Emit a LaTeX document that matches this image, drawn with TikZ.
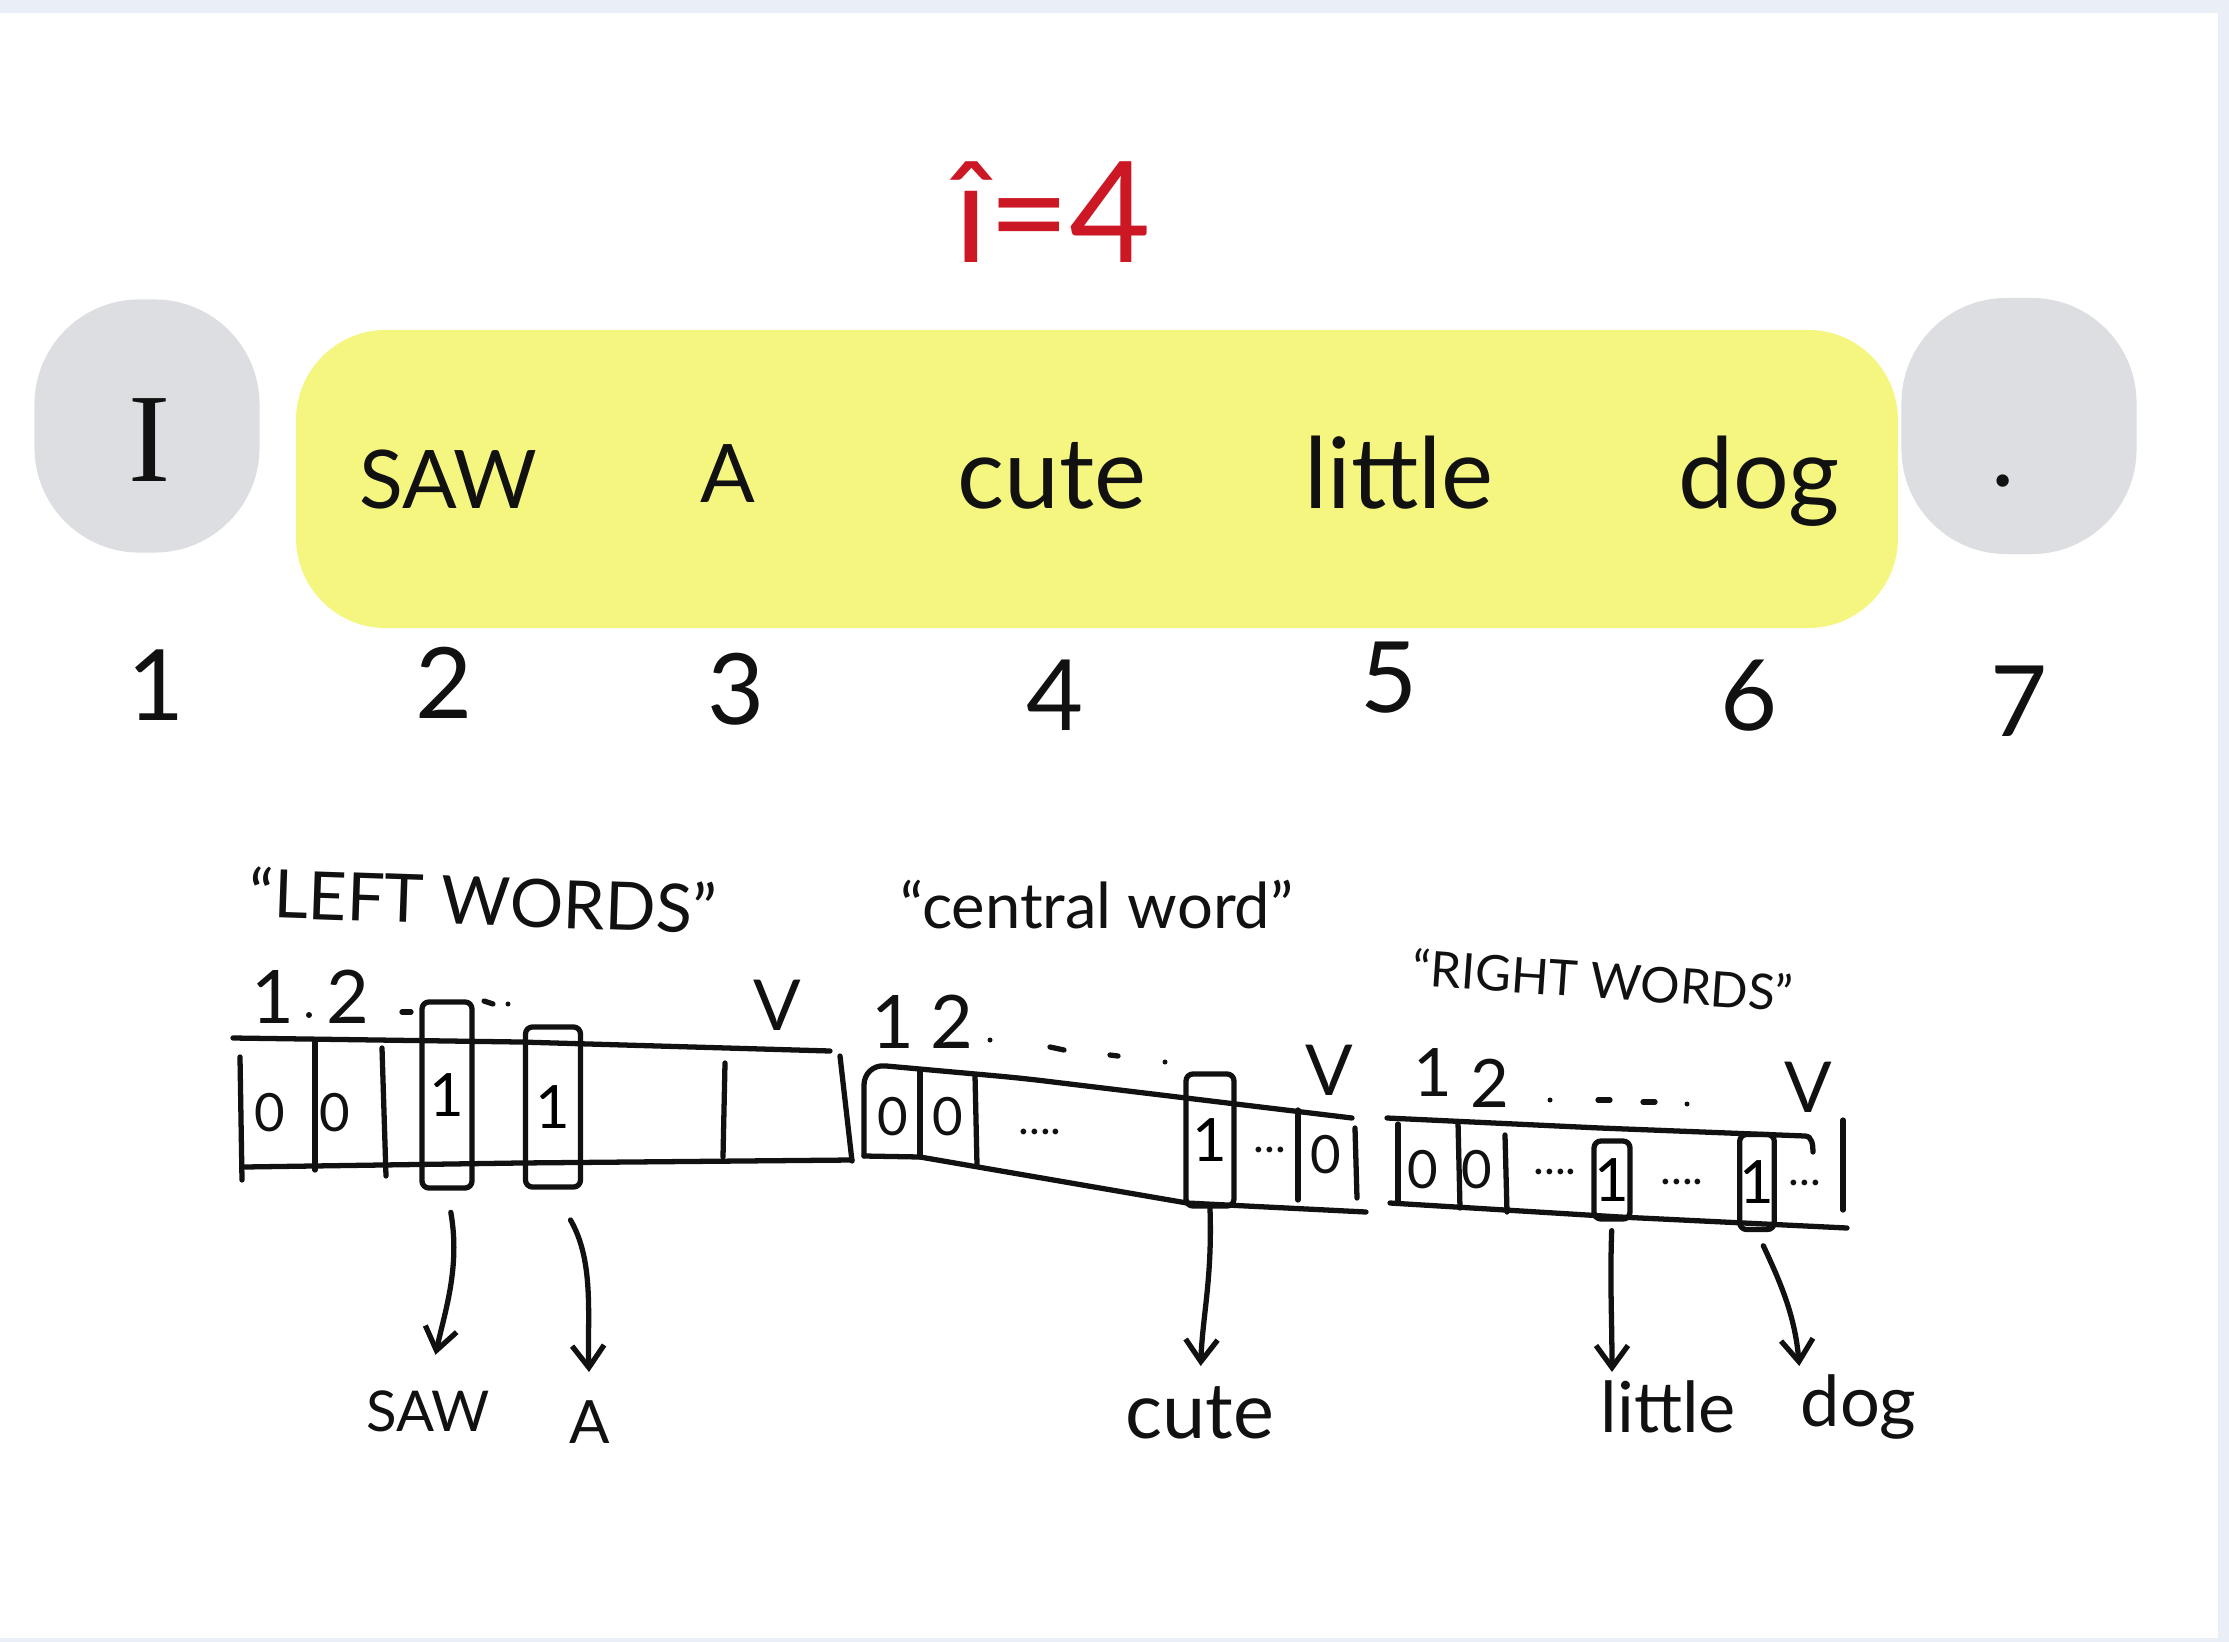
\documentclass[tikz,border=0pt]{standalone}
\usepackage{fontspec}
\setmainfont{Lato}
\newfontfamily\serifI{Liberation Serif}
\usetikzlibrary{arrows.meta}
\definecolor{framebg}{RGB}{233,238,247}
\definecolor{hlyellow}{RGB}{245,246,128}
\definecolor{blobgrey}{RGB}{221,222,225}
\definecolor{inkred}{RGB}{204,24,36}
\definecolor{ink}{RGB}{17,17,17}
\begin{document}
\begin{tikzpicture}[x=0.01cm,y=-0.01cm,
  hand/.style={draw=ink,line width=1.5pt,line cap=round,line join=round},
  arr/.style={hand,-{Straight Barb[length=2.2mm,width=3.2mm]}},
  blob/.style={fill=blobgrey,rounded corners=1.05cm,inner sep=0pt},
  hlbar/.style={fill=hlyellow,rounded corners=0.9cm,inner sep=0pt},
  word/.style={text=ink,inner sep=0pt,anchor=base,font=\fontsize{28}{34}\selectfont},
  capword/.style={word,font=\fontsize{23}{28}\selectfont},
  posnum/.style={text=ink,inner sep=0pt,anchor=base,font=\fontsize{28}{34}\selectfont},
  title/.style={text=inkred,inner sep=0pt,anchor=base,font=\fontsize{40}{48}\selectfont},
  grouplabel/.style={text=ink,inner sep=0pt,font=\fontsize{19}{23}\selectfont},
  idx/.style={text=ink,inner sep=0pt,font=\fontsize{21}{25}\selectfont},
  cell/.style={text=ink,inner sep=0pt,font=\fontsize{15}{18}\selectfont},
  celldots/.style={text=ink,inner sep=0pt,font=\fontsize{13}{15}\selectfont},
  onebox/.style={hand,rounded corners=2pt,inner sep=0pt,font=\fontsize{17}{20}\selectfont},
  outword/.style={text=ink,inner sep=0pt,font=\fontsize{20}{24}\selectfont}
]
% frame and page
\path[use as bounding box] (0,0) rectangle (2229,1642);
\fill[framebg] (0,0) rectangle (2229,1642);
\fill[white] (0,13) rectangle (2218,1638);

% title
\node[title] (ttl) at (1053,262) {î=4};

% highlight and blobs
\node[blob,minimum width=2.25cm,minimum height=2.53cm] (g1) at (147,426) {};
\node[blob,minimum width=2.35cm,minimum height=2.56cm] (g7) at (2019,426) {};
\node[hlbar,minimum width=16.01cm,minimum height=2.98cm] (hl) at (1097,479) {};

% sentence words
\node[word,font=\serifI\fontsize{36}{42}\selectfont] (w1) at (150,481) {I};
\node[capword] (w2) at (448,508) {SAW};
\node[capword] (w3) at (728,502) {A};
\node[word] (w4) at (1052,508) {cute};
\node[word] (w5) at (1399,508) {little};
\node[word] (w6) at (1759,508) {dog};
\node[word] (w7) at (2003,486) {.};

% positions
\node[posnum] (n1) at (156,720) {1};
\node[posnum] (n2) at (444,718) {2};
\node[posnum] (n3) at (736,724) {3};
\node[posnum] (n4) at (1055,730) {4};
\node[posnum] (n5) at (1389,712) {5};
\node[posnum] (n6) at (1749,730) {6};
\node[posnum] (n7) at (2019,736) {7};

% group labels
\node[grouplabel,rotate=-2] (gl) at (483,900) {“LEFT WORDS”};
\node[grouplabel,font=\fontsize{18}{22}\selectfont] (gc) at (1097,905) {“central word”};
\node[grouplabel,font=\fontsize{14}{17}\selectfont,rotate=-4] (gr) at (1603,980) {“RIGHT WORDS”};

% ---------- left vector ----------
\draw[hand] (233,1038) -- (520,1042) -- (830,1051);
\draw[hand] (240,1057) -- (242,1180);
\draw[hand] (244,1167) -- (520,1163) -- (852,1160);
\draw[hand] (840,1056) -- (852,1161);
\draw[hand] (315,1040) -- (315,1170);
\draw[hand] (382,1048) -- (386,1176);
\draw[hand] (725,1063) -- (723,1157);
\node[cell] (lc1) at (270,1113) {0};
\node[cell] (lc2) at (335,1113) {0};
\node[onebox,minimum width=0.50cm,minimum height=1.86cm] (b1) at (447,1095) {1};
\node[onebox,minimum width=0.55cm,minimum height=1.60cm] (b2) at (553,1107) {1};
\node[idx] (li1) at (273,997) {1};
\node[idx] (li2) at (348,997) {2};
\node[idx,font=\fontsize{20}{24}\selectfont] (liv) at (777,1005) {V};
\fill[ink] (309,1015) circle (3);
\draw[hand] (402,1012) -- (411,1012);
\draw[hand] (484,1001) -- (493,1004);
\fill[ink] (508,1004) circle (2.5);

% ---------- middle vector ----------
\draw[hand,rounded corners=6pt] (864,1156) -- (864,1064) -- (1020,1078) -- (1352,1118);
\draw[hand] (864,1156) -- (920,1157) -- (1187,1203) -- (1366,1212);
\draw[hand] (1355,1128) -- (1357,1198);
\draw[hand] (920,1070) -- (920,1157);
\draw[hand] (975,1075) -- (977,1165);
\draw[hand] (1298,1110) -- (1298,1200);
\node[cell] (mc1) at (893,1117) {0};
\node[cell] (mc2) at (948,1117) {0};
\node[celldots] (md1) at (1040,1132) {....};
\node[onebox,minimum width=0.48cm,minimum height=1.32cm] (b3) at (1210,1140) {1};
\node[celldots] (md2) at (1270,1150) {...};
\node[cell] (mc3) at (1326,1155) {0};
\node[idx] (mi1) at (893,1022) {1};
\node[idx] (mi2) at (952,1022) {2};
\node[idx,font=\fontsize{20}{24}\selectfont] (miv) at (1329,1070) {V};
\fill[ink] (990,1040) circle (2.5);
\draw[hand] (1050,1047) -- (1064,1050);
\draw[hand] (1110,1055) -- (1118,1056);
\fill[ink] (1165,1062) circle (2.5);

% ---------- right vector ----------
\draw[hand] (1387,1118) -- (1600,1128) -- (1805,1136) to[out=0,in=90] (1813,1152);
\draw[hand] (1398,1124) -- (1398,1203);
\draw[hand] (1390,1203) -- (1620,1217) -- (1847,1228);
\draw[hand] (1843,1120) -- (1843,1210);
\draw[hand] (1458,1122) -- (1460,1208);
\draw[hand] (1505,1135) -- (1507,1212);
\node[cell] (rc1) at (1423,1170) {0};
\node[cell] (rc2) at (1477,1170) {0};
\node[celldots] (rd1) at (1555,1172) {....};
\node[onebox,minimum width=0.36cm,minimum height=0.78cm] (b4) at (1612,1180) {1};
\node[celldots] (rd2) at (1682,1182) {....};
\node[onebox,minimum width=0.27cm,minimum height=0.95cm] (b5) at (1757,1182) {1};
\node[celldots] (rd3) at (1805,1183) {...};
\node[idx,font=\fontsize{19}{23}\selectfont] (ri1) at (1433,1073) {1};
\node[idx,font=\fontsize{19}{23}\selectfont] (ri2) at (1490,1083) {2};
\node[idx,font=\fontsize{20}{24}\selectfont] (riv) at (1808,1087) {V};
\fill[ink] (1550,1100) circle (2.5);
\draw[hand] (1598,1100) -- (1610,1100);
\draw[hand] (1643,1102) -- (1655,1102);
\fill[ink] (1687,1104) circle (2.5);

% ---------- output words ----------
\node[outword,anchor=north,font=\fontsize{16}{19}\selectfont] (l1) at (428,1390) {SAW};
\node[outword,anchor=north,font=\fontsize{17}{20}\selectfont] (l2) at (590,1400) {A};
\node[outword,anchor=north,font=\fontsize{22}{26}\selectfont] (l3) at (1200,1386) {cute};
\node[outword,anchor=north west] (l4) at (1600,1380) {little};
\node[outword,anchor=north west] (l5) at (1800,1374) {dog};

% ---------- arrows ----------
\draw[arr,shorten <=0.22cm,shorten >=0.36cm] (b1.south) to[out=-80,in=78] (l1.north);
\draw[arr,shorten <=0.35cm,shorten >=0.28cm] (b2.south) to[out=-60,in=92] (l2.north);
\draw[arr,shorten >=0.2cm] (b3.south) to[out=-88,in=88] (l3.north);
\draw[arr,shorten <=0.09cm,shorten >=0.08cm] (b4.south) to[out=-92,in=90] (l4.north west -| b4.south);
\draw[arr,shorten <=0.15cm,shorten >=0.08cm] (b5.south) to[out=-65,in=95] (l5.north west);
\end{tikzpicture}
\end{document}
